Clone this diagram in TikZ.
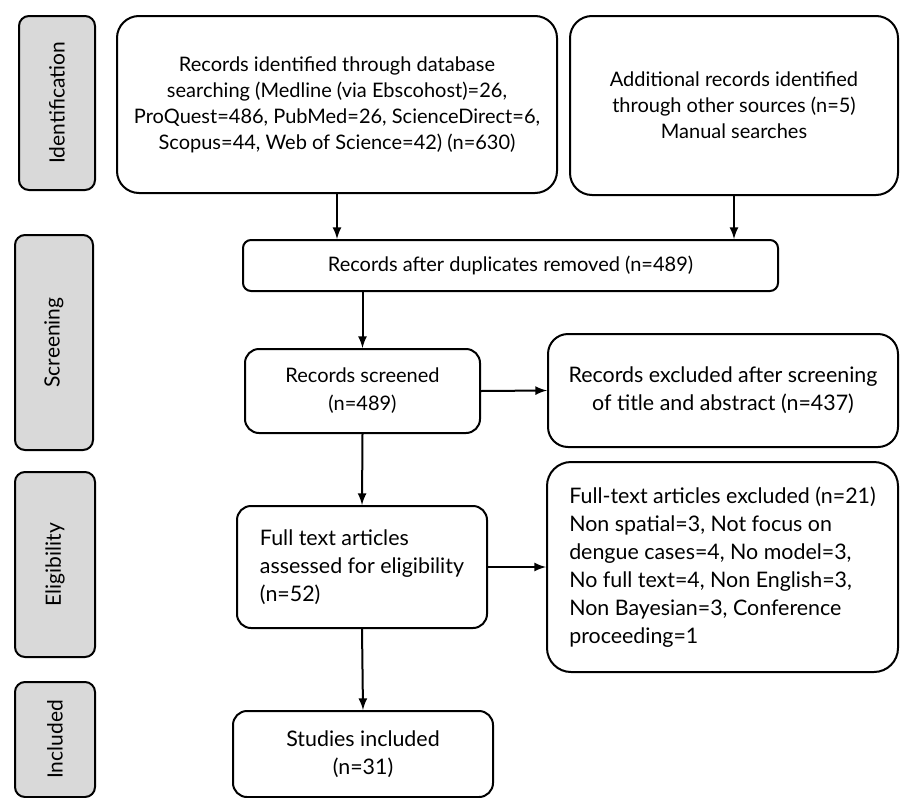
\documentclass[tikz,border=0pt]{standalone}
\usepackage{fontspec}
\setmainfont{Lato}
\usetikzlibrary{positioning}
\definecolor{phasegray}{RGB}{217,217,217}

\begin{document}
\begin{tikzpicture}[x=0.5pt,y=-0.5pt,
    phase/.style={draw, line width=1pt, fill=phasegray, rounded corners=5pt,
        rotate=90, inner sep=0pt, font=\fontsize{10.5}{13}\selectfont},
    bigbox/.style={draw, line width=1pt, rounded corners=11pt, align=center,
        inner sep=0pt, font=\fontsize{10}{13}\selectfont},
    box/.style={draw, line width=1pt, rounded corners=7pt, align=center,
        inner sep=0pt, font=\fontsize{10}{14}\selectfont},
    bigfont/.style={font=\fontsize{10.7}{14}\selectfont},
    flow/.style={->, >=latex, line width=1pt}]

    \useasboundingbox (0,0) rectangle (900,798);

    % phases on the left
    \node[phase, minimum width=87pt, minimum height=38pt] (ident) at (57,103) {Identification};
    \node[phase, minimum width=107.5pt, minimum height=39pt] (screen) at (54,342.5) {Screening};
    \node[phase, minimum width=92.5pt, minimum height=40pt] (elig) at (55,564.5) {Eligibility};
    \node[phase, minimum width=57.5pt, minimum height=40pt] (incl) at (55,739.5) {Included};

    % identification
    \node[bigbox, minimum width=220pt, minimum height=88.5pt] (dbase) at (337,104.5)
        {Records identified through database\\
         searching (Medline (via Ebscohost)=26,\\
         ProQuest=486, PubMed=26, ScienceDirect=6,\\
         Scopus=44, Web of Science=42) (n=630)};
    \node[bigbox, minimum width=164pt, minimum height=89.5pt] (other) at (734,105.5)
        {Additional records identified\\ through other sources (n=5)\\ Manual searches};

    % screening
    \node[box, rounded corners=4pt, minimum width=267.5pt, minimum height=25.5pt] (dupl) at (510.5,265.5)
        {Records after duplicates removed (n=489)};
    \node[box, minimum width=117.5pt, minimum height=42pt] (screened) at (362.5,391)
        {Records screened\\ (n=489)};
    \node[box, bigfont, rounded corners=10pt, minimum width=175pt, minimum height=56.5pt] (excl) at (723,390.5)
        {Records excluded after screening\\ of title and abstract (n=437)};

    % eligibility
    \node[box, bigfont, align=left, minimum width=125pt, minimum height=61pt] (fulltext) at (362,567)
        {Full text articles\\ assessed for eligibility\\ (n=52)};
    \node[box, bigfont, align=left, rounded corners=12pt, minimum width=175.5pt, minimum height=105pt] (exclft) at (722.5,567)
        {Full-text articles excluded (n=21)\\
         Non spatial=3, Not focus on\\
         dengue cases=4, No model=3,\\
         No full text=4, Non English=3,\\
         Non Bayesian=3, Conference\\
         proceeding=1};

    % included
    \node[box, bigfont, minimum width=130pt, minimum height=43pt] (studies) at (363,754)
        {Studies included\\ (n=31)};

    % arrows
    \draw[flow] (dbase.south) -- (dbase.south |- dupl.north);
    \draw[flow] (other.south) -- (other.south |- dupl.north);
    \draw[flow] (screened.north |- dupl.south) -- (screened.north);
    \draw[flow] (screened.east) -- (excl.west);
    \draw[flow] (screened.south) -- (fulltext.north);
    \draw[flow] (fulltext.east) -- (exclft.west);
    \draw[flow] (fulltext.south) -- (studies.north);
\end{tikzpicture}
\end{document}
